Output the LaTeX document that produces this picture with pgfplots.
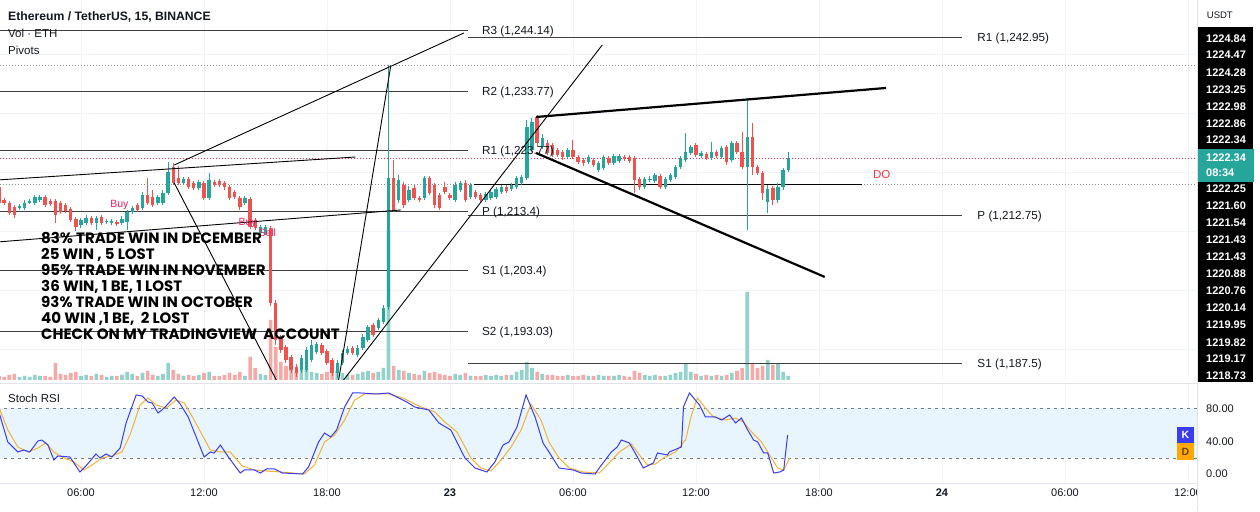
\documentclass[border=0pt]{standalone}
\usepackage{pgfplots}
\pgfplotsset{compat=1.18}
\usepackage{pgfplotstable}
\usepackage{fontspec}
\setmainfont{Liberation Sans}
\newfontfamily\blockfont{Poppins}

\definecolor{txtc}{HTML}{131722}
\definecolor{upc}{HTML}{26A69A}
\definecolor{dnc}{HTML}{EF5350}
\definecolor{upv}{HTML}{92D2CC}
\definecolor{dnv}{HTML}{F7A9A7}
\definecolor{gridc}{HTML}{F0F3FA}
\definecolor{pivc}{HTML}{404040}
\definecolor{dotc}{HTML}{8A8D96}
\definecolor{redc}{HTML}{F23645}
\definecolor{pinkc}{HTML}{E91E63}
\definecolor{kc}{HTML}{3B3BF0}
\definecolor{dc}{HTML}{F2B233}
\definecolor{dbox}{HTML}{FFA800}
\definecolor{bandc}{HTML}{E8F4FE}
\definecolor{dashc}{HTML}{787B86}
\definecolor{sepc}{HTML}{E0E3EB}

% ETHUSDT 15m candles: t = hours from 22 Dec 00:00
\pgfplotstableread{
t o h l c v
3.00 1213.91 1214.59 1213.57 1214.25 3
3.25 1213.91 1215.27 1213.57 1214.76 4
3.50 1214.76 1215.44 1214.59 1215.10 3
3.75 1214.76 1216.12 1214.42 1215.78 5
4.00 1215.27 1216.12 1214.93 1215.78 4
6.00 1211.02 1212.21 1210.52 1211.87 4
6.25 1211.36 1212.72 1211.02 1212.21 5
6.75 1211.36 1212.55 1210.18 1212.21 6
7.25 1211.53 1212.04 1211.19 1211.70 3
7.50 1211.36 1212.04 1211.02 1211.70 4
8.00 1211.36 1212.55 1211.02 1212.04 5
8.25 1211.53 1213.57 1210.18 1213.23 8
8.50 1213.23 1214.25 1212.89 1213.91 6
9.00 1213.91 1216.63 1213.57 1216.12 7
9.75 1214.76 1216.12 1214.42 1215.78 4
10.00 1214.76 1216.97 1214.42 1216.46 6
10.25 1216.46 1221.72 1216.12 1220.02 17
11.00 1218.16 1219.18 1217.82 1218.84 4
11.75 1217.31 1218.67 1216.97 1218.33 5
12.25 1215.61 1219.85 1215.27 1218.67 8
14.00 1214.76 1215.95 1214.42 1215.61 4
14.75 1209.67 1211.02 1209.33 1210.69 6
15.00 1209.67 1211.02 1209.33 1210.69 5
16.75 1186.40 1188.95 1185.89 1188.44 10
17.00 1186.40 1190.31 1186.06 1189.80 12
17.25 1188.10 1191.50 1187.76 1190.65 8
17.50 1189.46 1191.16 1189.12 1190.82 7
18.50 1185.89 1188.10 1185.05 1187.59 9
18.75 1187.59 1189.80 1187.25 1189.29 7
19.00 1189.29 1190.48 1188.95 1189.97 5
19.50 1188.95 1190.65 1188.61 1190.14 6
19.75 1190.14 1192.52 1189.80 1192.01 8
20.00 1191.50 1194.04 1191.16 1193.71 9
20.50 1193.54 1195.23 1193.20 1194.89 8
20.75 1194.55 1197.44 1194.21 1196.93 12
21.00 1197.10 1238.19 1196.59 1219.01 150
21.50 1215.27 1219.51 1214.76 1218.67 10
22.00 1215.27 1217.65 1214.93 1216.97 7
22.75 1215.61 1219.35 1215.27 1219.01 9
24.25 1215.27 1218.33 1214.93 1217.82 6
24.50 1216.97 1218.50 1216.63 1218.16 5
25.00 1215.78 1218.16 1215.44 1217.82 4
25.75 1215.27 1216.63 1214.93 1216.29 5
26.00 1215.61 1216.97 1215.27 1216.63 4
26.25 1215.78 1217.48 1215.44 1217.14 5
26.50 1216.63 1217.82 1216.29 1217.48 4
27.00 1217.14 1218.16 1216.80 1217.82 5
27.25 1217.48 1219.35 1217.14 1219.01 8
27.50 1218.16 1219.51 1217.82 1219.18 10
27.75 1219.01 1228.85 1218.67 1227.67 18
28.00 1223.76 1229.19 1223.42 1228.51 12
28.50 1224.27 1226.48 1223.93 1225.80 6
29.75 1222.57 1224.10 1222.23 1223.76 5
30.75 1221.72 1222.91 1221.38 1222.57 4
31.25 1220.36 1221.89 1220.02 1221.55 5
31.50 1220.70 1222.91 1220.36 1222.57 4
32.00 1221.55 1223.08 1221.21 1222.74 4
32.25 1221.89 1223.08 1221.55 1222.74 5
33.50 1217.48 1219.18 1217.14 1218.84 5
33.75 1218.67 1219.35 1218.33 1218.84 4
34.00 1218.50 1219.85 1218.16 1219.51 5
34.50 1217.48 1219.18 1217.14 1218.84 4
34.75 1218.67 1219.85 1218.33 1219.51 5
35.00 1219.18 1221.21 1218.84 1220.87 7
35.25 1220.87 1222.74 1220.53 1222.40 8
35.50 1222.06 1226.65 1221.72 1223.42 16
35.75 1223.25 1224.61 1222.91 1224.27 8
36.25 1222.74 1223.59 1222.40 1223.25 4
36.75 1222.40 1225.12 1222.06 1223.42 4
37.25 1222.57 1224.44 1222.23 1224.10 4
37.75 1222.06 1225.29 1221.72 1224.95 7
38.50 1220.87 1232.59 1210.18 1225.97 88
39.50 1214.93 1217.82 1213.06 1217.14 20
40.00 1215.27 1218.16 1214.76 1217.48 16
40.25 1217.48 1220.70 1216.97 1220.36 8
40.50 1220.36 1223.42 1220.02 1222.34 4
}\upbars

\pgfplotstableread{
t o h l c v
2.00 1217.48 1217.82 1214.42 1214.76 4
2.25 1215.27 1215.61 1214.42 1214.76 3
2.50 1214.76 1215.10 1212.72 1213.06 5
2.75 1214.08 1214.42 1212.21 1212.72 6
4.25 1215.78 1216.12 1214.08 1214.42 4
4.50 1215.10 1215.44 1214.25 1214.59 3
4.75 1215.10 1215.44 1211.36 1212.72 17
5.00 1214.76 1215.10 1212.89 1213.23 6
5.25 1214.42 1214.76 1213.06 1213.40 5
5.50 1213.74 1214.08 1211.53 1211.87 7
5.75 1212.04 1212.38 1210.01 1210.69 8
6.50 1212.21 1212.55 1211.02 1211.36 4
7.00 1212.38 1212.72 1211.02 1211.36 5
7.75 1211.53 1211.87 1210.86 1211.19 4
8.75 1214.42 1214.76 1213.23 1213.57 4
9.25 1216.12 1219.01 1214.42 1214.76 9
9.50 1215.78 1216.97 1214.08 1214.42 5
10.50 1220.87 1221.55 1217.82 1218.16 10
10.75 1219.01 1221.04 1217.82 1218.16 6
11.25 1218.84 1219.18 1217.14 1217.48 5
11.50 1218.16 1218.50 1216.97 1217.31 4
12.00 1218.16 1218.50 1215.27 1215.61 7
12.50 1218.33 1218.67 1217.48 1217.82 4
12.75 1218.50 1218.84 1217.48 1217.82 4
13.00 1218.16 1218.50 1216.97 1217.48 5
13.25 1217.48 1217.82 1215.27 1215.61 7
13.50 1216.63 1216.97 1215.44 1215.78 5
13.75 1215.61 1215.95 1213.57 1214.08 8
14.25 1215.44 1215.78 1210.35 1210.69 23
14.50 1211.87 1212.21 1210.18 1210.52 12
15.25 1210.52 1210.86 1197.27 1197.78 60
15.50 1197.78 1198.29 1190.65 1191.50 33
15.75 1192.01 1192.35 1189.29 1189.80 18
16.00 1190.31 1190.65 1187.59 1188.10 14
16.25 1188.61 1188.95 1185.89 1186.40 12
16.50 1186.91 1187.42 1185.22 1185.89 8
17.75 1190.65 1190.99 1188.95 1189.29 6
18.00 1189.63 1189.97 1187.25 1187.59 8
18.25 1188.10 1188.44 1185.39 1185.89 10
19.25 1190.14 1190.48 1188.95 1189.29 5
20.25 1194.04 1194.38 1192.01 1192.35 7
21.25 1219.01 1222.06 1213.23 1213.57 14
21.75 1217.82 1218.33 1213.91 1214.42 9
22.25 1217.31 1217.82 1215.27 1215.61 6
22.50 1215.61 1215.95 1214.93 1215.27 5
23.00 1219.01 1219.35 1216.12 1216.46 7
23.25 1217.82 1218.16 1213.91 1214.42 8
23.50 1216.12 1216.46 1213.57 1213.91 6
23.75 1217.48 1218.33 1216.29 1216.63 5
24.00 1216.12 1216.46 1215.27 1215.61 4
24.75 1218.16 1218.67 1214.93 1215.27 7
25.25 1216.63 1216.97 1215.44 1215.78 4
25.50 1216.12 1216.46 1214.93 1215.27 4
26.75 1217.48 1217.82 1216.46 1216.80 5
28.25 1229.36 1229.70 1224.44 1224.95 8
28.75 1224.95 1225.46 1222.91 1223.25 5
29.00 1224.61 1224.95 1222.57 1222.91 5
29.25 1223.76 1224.10 1222.57 1222.91 4
29.50 1223.42 1223.76 1222.06 1222.57 4
30.00 1223.76 1225.46 1222.23 1222.57 4
30.25 1222.57 1222.91 1221.38 1221.72 4
30.50 1222.06 1222.40 1221.04 1221.55 5
31.00 1222.06 1222.40 1220.87 1221.21 4
31.75 1222.40 1222.74 1221.21 1221.55 4
32.50 1222.57 1222.91 1221.89 1222.23 4
32.75 1222.57 1222.91 1221.55 1221.89 3
33.00 1222.40 1222.74 1216.46 1218.67 9
33.25 1218.84 1219.18 1216.97 1217.48 7
34.25 1219.35 1219.68 1217.14 1217.48 4
36.00 1224.61 1224.95 1222.57 1222.91 6
36.50 1223.08 1223.42 1222.06 1222.40 5
37.00 1223.42 1223.76 1222.40 1222.74 5
37.50 1224.27 1224.61 1221.21 1221.72 5
38.00 1224.95 1225.29 1223.08 1223.42 9
38.25 1223.42 1226.82 1220.53 1220.87 12
38.75 1225.97 1228.34 1219.51 1220.87 17
39.00 1220.87 1221.21 1219.51 1219.85 12
39.25 1219.85 1220.19 1215.27 1216.46 14
39.75 1217.31 1217.65 1214.42 1215.27 15
}\downbars

\pgfplotstableread{
t k
1.94 80.0
2.43 39.2
2.92 27.2
3.21 29.6
3.50 27.2
3.90 40.4
4.09 41.6
4.39 35.6
4.68 17.6
4.87 22.4
5.46 21.2
5.95 3.2
6.24 10.4
6.73 24.8
6.93 20.0
7.22 24.8
7.51 21.2
7.91 32.0
8.20 62.0
8.69 95.6
8.98 94.4
9.27 87.2
9.47 86.0
9.76 74.0
10.06 80.0
10.55 93.2
10.84 84.8
11.23 69.2
12.01 21.2
12.31 27.2
12.50 26.0
12.80 35.6
13.19 21.2
13.77 2.0
13.97 5.6
14.46 5.6
14.75 2.0
15.05 6.8
15.44 6.8
15.83 2.0
16.81 0.8
17.10 9.2
17.59 39.2
17.88 50.0
18.18 45.2
18.47 53.6
18.86 81.2
19.25 98.0
19.64 98.0
20.42 96.8
21.01 98.0
21.50 92.0
21.89 87.2
22.28 81.2
22.97 77.6
23.46 62.0
24.04 53.6
24.73 20.0
25.22 8.0
25.80 3.2
26.19 15.2
26.59 35.6
26.88 39.2
27.27 57.2
27.71 95.6
28.15 69.2
28.54 38.0
28.83 27.2
29.32 8.0
30.01 5.6
30.40 2.0
31.08 0.8
31.28 8.0
31.87 27.2
32.16 33.2
32.36 41.6
32.75 38.0
33.14 21.2
33.43 8.0
33.92 14.0
34.12 26.0
34.61 23.6
34.70 27.2
35.29 33.2
35.39 81.2
35.68 98.0
36.17 83.6
36.46 69.2
36.95 69.2
37.25 65.6
37.64 71.6
37.93 62.0
38.22 68.0
38.52 53.6
38.81 41.6
39.01 39.2
39.30 26.0
39.50 26.0
39.79 2.0
40.08 3.2
40.28 5.6
40.47 47.6
}\stochk

\pgfplotstableread{
t d
1.94 84.8
2.43 53.6
2.92 33.2
3.41 27.2
3.90 32.0
4.29 38.0
4.68 27.2
5.17 20.0
5.66 15.2
6.15 5.6
6.54 11.6
7.03 20.0
7.51 22.4
8.00 27.2
8.39 47.6
8.88 83.6
9.27 92.0
9.67 83.6
10.16 80.0
10.64 89.6
11.04 86.0
11.52 65.6
12.31 29.6
12.80 27.2
13.28 27.2
13.87 10.4
14.46 5.6
15.05 4.4
15.73 3.2
16.90 0.8
17.39 11.6
17.88 39.2
18.37 47.6
18.86 65.6
19.35 89.6
19.84 96.8
21.01 96.8
21.70 92.0
22.48 82.4
23.26 75.2
23.75 63.2
24.34 51.2
25.02 20.0
25.51 8.0
26.00 4.4
26.49 17.6
26.98 33.2
27.47 53.6
27.95 84.8
28.44 65.6
28.83 39.2
29.32 20.0
29.81 8.0
30.50 3.2
31.28 2.0
31.67 11.6
32.26 27.2
32.85 36.8
33.24 23.6
33.63 11.6
34.02 12.8
34.41 20.0
35.00 27.2
35.49 41.6
35.78 71.6
36.07 92.0
36.46 80.0
36.85 69.2
37.44 65.6
37.93 68.0
38.32 63.2
38.71 51.2
39.20 39.2
39.59 23.6
39.98 8.0
40.28 5.6
40.57 20.0
}\stochd

\pgfplotsset{
  panel/.style={width=1197pt, scale only axis,
    xmin=2.05, xmax=60.44, clip=true},
  pricepanel/.style={panel, anchor=north west, at={(0pt,511pt)}, height=380pt,
    ymin=1184.7, ymax=1249.23},
  candle/.style={draw=none, mark=none, forget plot,
    error bars/.cd, y dir=plus, y explicit, error mark=none,
    error bar style={draw=#1, line width=3.4pt}},
  wick/.style={draw=none, mark=none, forget plot,
    error bars/.cd, y dir=plus, y explicit, error mark=none,
    error bar style={draw=#1, line width=1pt}},
}
\tikzset{
  pivlab/.style={anchor=base west, inner sep=0pt, yshift=-4.2pt,
    text=txtc, font=\fontsize{11.7}{13}\selectfont},
}

\begin{document}
\begin{tikzpicture}
\useasboundingbox (0pt,0pt) rectangle (1260pt,511pt);
\fill[white] (0pt,0pt) rectangle (1260pt,511pt);

% grid of the price pane
\begin{axis}[pricepanel, axis line style={draw=none}, major tick length=0pt,
  xtick={6,12,...,60}, ytick={1190,1200,...,1240},
  xticklabels={}, yticklabels={}, grid=major, major grid style={gridc}]
\addplot[draw=none] coordinates {(10,1200)};
\end{axis}

% volume
\begin{axis}[panel, anchor=north west, at={(0pt,511pt)}, height=380pt,
  ymin=0, ymax=380, hide axis, ybar, bar width=3.6pt, bar shift=0pt]
\addplot[fill=upv, draw=none] table[x=t, y=v] {\upbars};
\addplot[fill=dnv, draw=none] table[x=t, y=v] {\downbars};
\end{axis}

% price pane
\begin{axis}[pricepanel, hide axis]
% pivots of 22 Dec
\addplot[pivc] coordinates {(1.9,1244.14) (24.87,1244.14)};
\addplot[pivc] coordinates {(1.9,1233.77) (24.87,1233.77)};
\addplot[pivc] coordinates {(1.9,1223.77) (24.87,1223.77)};
\addplot[pivc] coordinates {(1.9,1213.4) (24.87,1213.4)};
\addplot[pivc] coordinates {(1.9,1203.4) (24.87,1203.4)};
\addplot[pivc] coordinates {(1.9,1193.03) (24.87,1193.03)};
% pivots of 23 Dec
\addplot[pivc] coordinates {(24.87,1242.95) (48.98,1242.95)};
\addplot[pivc] coordinates {(24.87,1212.75) (48.98,1212.75)};
\addplot[pivc] coordinates {(24.87,1187.5) (48.98,1187.5)};
% price lines
\addplot[dotc, dash pattern=on 1pt off 2pt] coordinates {(1.9,1238.19) (60.5,1238.19)};
\addplot[dotc, dash pattern=on 1pt off 2pt] coordinates {(1.9,1217.99) (60.5,1217.99)};
\addplot[redc, dash pattern=on 1pt off 2pt] coordinates {(1.9,1222.34) (60.5,1222.34)};
\addplot[black] coordinates {(25.17,1217.99) (44.09,1217.99)};
% candles
\addplot[wick=upc] table[x=t, y=l, y error expr=\thisrow{h}-\thisrow{l}] {\upbars};
\addplot[wick=dnc] table[x=t, y=l, y error expr=\thisrow{h}-\thisrow{l}] {\downbars};
\addplot[candle=upc] table[x=t, y=o, y error expr=\thisrow{c}-\thisrow{o}] {\upbars};
\addplot[candle=dnc] table[x=t, y=c, y error expr=\thisrow{o}-\thisrow{c}] {\downbars};
% drawings
\addplot[black, line width=0.9pt] coordinates {(1.94,1218.67) (19.40,1222.57)};
\addplot[black, line width=0.9pt] coordinates {(10.55,1221.21) (24.68,1243.63)};
\addplot[black, line width=0.9pt] coordinates {(10.55,1218.16) (15.53,1184.7)};
\addplot[black, line width=0.9pt] coordinates {(1.94,1208.14) (21.60,1213.57)};
\addplot[black, line width=0.9pt] coordinates {(18.57,1184.7) (21.11,1238.02)};
\addplot[black, line width=0.9pt] coordinates {(18.81,1184.7) (31.43,1241.6)};
\addplot[black, line width=2.2pt] coordinates {(28.20,1229.36) (45.27,1234.29)};
\addplot[black, line width=2.2pt] coordinates {(28.20,1223.25) (42.28,1202.2)};
% labels
\node[pivlab] at (axis cs:25.56,1244.14) {R3 (1,244.14)};
\node[pivlab] at (axis cs:25.56,1233.77) {R2 (1,233.77)};
\node[pivlab] at (axis cs:25.56,1223.77) {R1 (1,223.77)};
\node[pivlab] at (axis cs:25.56,1213.4) {P (1,213.4)};
\node[pivlab] at (axis cs:25.56,1203.4) {S1 (1,203.4)};
\node[pivlab] at (axis cs:25.56,1193.03) {S2 (1,193.03)};
\node[pivlab] at (axis cs:49.72,1242.95) {R1 (1,242.95)};
\node[pivlab] at (axis cs:49.72,1212.75) {P (1,212.75)};
\node[pivlab] at (axis cs:49.72,1187.5) {S1 (1,187.5)};
\node[anchor=base west, inner sep=0pt, text=redc, font=\fontsize{11.5}{13}\selectfont]
  at (axis cs:44.63,1218.96) {DO};
\node[anchor=base west, inner sep=0pt, text=pinkc, font=\fontsize{10.5}{12}\selectfont]
  at (axis cs:7.42,1213.91) {Buy};
\node[anchor=base west, inner sep=0pt, text=pinkc, font=\fontsize{10.5}{12}\selectfont]
  at (axis cs:13.68,1211.02) {Buy};
\node[anchor=base west, inner sep=0pt, text=pinkc, font=\fontsize{10.5}{12}\selectfont]
  at (axis cs:14.65,1208.99) {Sell};
\end{axis}

% Stoch RSI pane
\begin{axis}[panel, anchor=south west, at={(0pt,28pt)}, height=100pt, ymin=-10, ymax=110,
  axis line style={draw=none}, major tick length=0pt, ytick=\empty,
  xtick={6,12,...,60},
  xticklabels={06:00,12:00,18:00,\textbf{23},06:00,12:00,18:00,\textbf{24},06:00,12:00},
  xticklabel style={font=\fontsize{11}{13}\selectfont, text=txtc, yshift=-2pt},
  xmajorgrids, major grid style={gridc}]
\addplot[fill=bandc, draw=none] coordinates {(1.9,20) (60.5,20) (60.5,80) (1.9,80)};
\addplot[dashc, dash pattern=on 3.5pt off 3.5pt] coordinates {(1.9,80) (60.5,80)};
\addplot[dashc, dash pattern=on 3.5pt off 3.5pt] coordinates {(1.9,20) (60.5,20)};
\addplot[dc, line width=1pt] table[x=t, y=d] {\stochd};
\addplot[kc, line width=1pt] table[x=t, y=k] {\stochk};
\end{axis}

\begin{scope}[x=1pt, y=1pt]
% pane borders and price scale
\draw[sepc] (0,128) -- (1197,128);
\draw[sepc] (0,28) -- (1197,28);
\fill[white] (1197,0) rectangle (1260,511);
\draw[sepc] (1197,0) -- (1197,511);
\fill[black] (1197.5,129) rectangle (1253,484);
\fill[upc] (1197.5,329.3) rectangle (1254,361.7);
\begin{scope}[every node/.style={anchor=base west, inner sep=0pt, text=white,
    font=\bfseries\fontsize{11}{13}\selectfont}]
\node at (1206,468.7) {1224.84};
\node at (1206,452) {1224.47};
\node at (1206,434.3) {1224.28};
\node at (1206,417.7) {1223.25};
\node at (1206,400.3) {1222.98};
\node at (1206,383.7) {1222.86};
\node at (1206,367) {1222.34};
\node at (1206,349.7) {1222.34};
\node at (1206,334.7) {08:34};
\node at (1206,318.7) {1222.25};
\node at (1206,301) {1221.60};
\node at (1206,284.3) {1221.54};
\node at (1206,267) {1221.43};
\node at (1206,250.3) {1221.43};
\node at (1206,233) {1220.88};
\node at (1206,216.3) {1220.76};
\node at (1206,199.3) {1220.14};
\node at (1206,182) {1219.95};
\node at (1206,164.7) {1219.82};
\node at (1206,148) {1219.17};
\node at (1206,131.3) {1218.73};
\end{scope}
\begin{scope}[every node/.style={anchor=base west, inner sep=0pt, text=txtc,
    font=\fontsize{11}{13}\selectfont}]
\node at (1206,98.7) {80.00};
\node at (1206,65) {40.00};
\node at (1206,34) {0.00};
\node[font=\fontsize{9.5}{11}\selectfont] at (1206.7,492.7) {USDT};
\end{scope}
\fill[kc] (1176.7,67.7) rectangle (1194.3,83.7);
\fill[dbox] (1176.7,51) rectangle (1194.3,67.7);
\node[text=white, font=\bfseries\fontsize{10.5}{12}\selectfont] at (1185.5,75.7) {K};
\node[text=black!60!dbox, font=\bfseries\fontsize{10.5}{12}\selectfont] at (1185.5,59.3) {D};

% legend texts
\node[anchor=base west, inner sep=0pt, text=txtc, font=\bfseries\fontsize{12.2}{14}\selectfont]
  at (8,490.3) {Ethereum / TetherUS, 15, BINANCE};
\node[anchor=base west, inner sep=0pt, text=txtc, font=\fontsize{11.5}{13}\selectfont]
  at (8,473.3) {Vol · ETH};
\node[anchor=base west, inner sep=0pt, text=txtc, font=\fontsize{11.5}{13}\selectfont]
  at (8,456) {Pivots};
\node[anchor=base west, inner sep=0pt, text=txtc, font=\fontsize{11.5}{13}\selectfont]
  at (8,108.3) {Stoch RSI};

% annotation block
\begin{scope}[every node/.style={anchor=base west, inner sep=0pt, text=black,
    font=\blockfont\bfseries\fontsize{15}{16}\selectfont}]
\node at (41,267) {83\% TRADE WIN IN DECEMBER};
\node at (41,251) {25 WIN , 5 LOST};
\node at (41,235) {95\% TRADE WIN IN NOVEMBER};
\node at (41,219) {36 WIN, 1 BE, 1 LOST};
\node at (41,203) {93\% TRADE WIN IN OCTOBER};
\node at (41,187) {40 WIN ,1 BE,\ \ 2 LOST};
\node at (41,171) {CHECK ON MY TRADINGVIEW\ \ ACCOUNT};
\end{scope}
\end{scope}
\end{tikzpicture}
\end{document}
